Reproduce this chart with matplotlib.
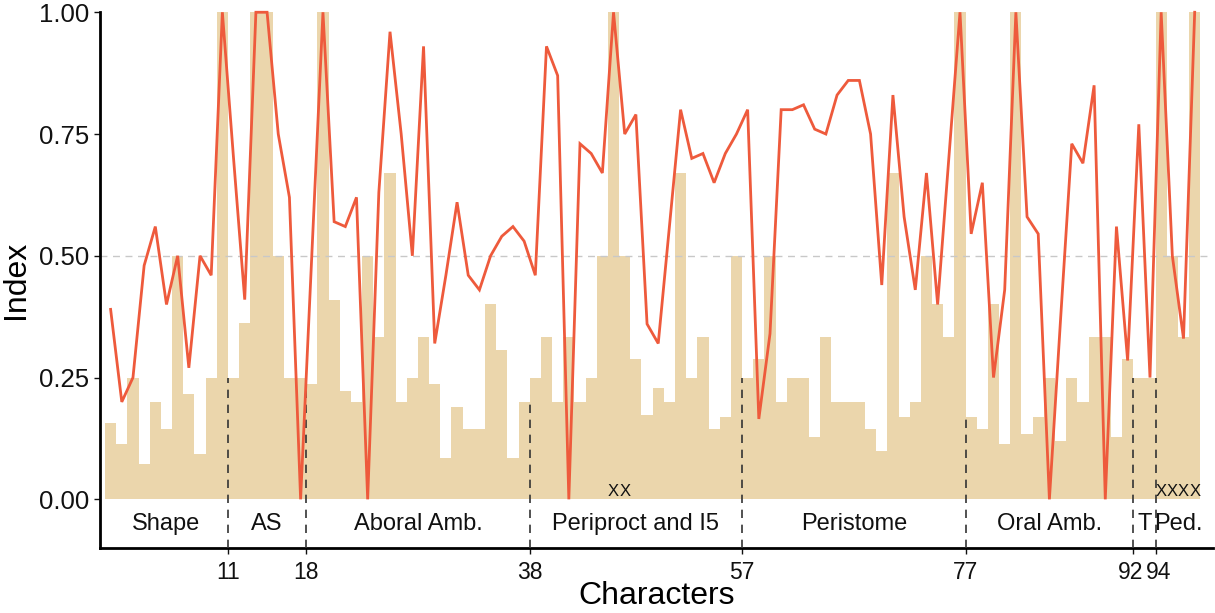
import matplotlib
matplotlib.use("Agg")
import matplotlib.pyplot as plt
import matplotlib.transforms as mtransforms
import numpy as np

plt.rcParams['font.family'] = ['Liberation Sans', 'DejaVu Sans']

# ---- data ----
characters = list(range(1, 99))
bar_values = [
    0.156, 0.113, 0.25, 0.073, 0.20, 0.144, 0.50, 0.216, 0.094, 0.25,
    1.0, 0.25, 0.363, 1.0, 1.0, 0.50, 0.25, 0.25, 0.237, 1.0,
    0.41, 0.223, 0.20, 0.50, 0.334, 0.67, 0.20, 0.25, 0.334, 0.237,
    0.084, 0.189, 0.144, 0.144, 0.40, 0.307, 0.084, 0.20, 0.25, 0.334,
    0.20, 0.334, 0.20, 0.25, 0.50, 1.0, 0.50, 0.288, 0.173, 0.228,
    0.20, 0.67, 0.25, 0.334, 0.144, 0.168, 0.50, 0.25, 0.288, 0.50,
    0.20, 0.25, 0.25, 0.127, 0.334, 0.20, 0.20, 0.20, 0.144, 0.10,
    0.67, 0.168, 0.20, 0.50, 0.40, 0.334, 1.0, 0.168, 0.144, 0.40,
    0.113, 1.0, 0.134, 0.168, 0.25, 0.12, 0.25, 0.20, 0.334, 0.334,
    0.127, 0.288, 0.25, 0.25, 1.0, 0.50, 0.334, 1.0,
]
line_values = [
    0.39, 0.20, 0.25, 0.48, 0.56, 0.40, 0.50, 0.27, 0.50, 0.46,
    1.0, 0.70, 0.41, 1.0, 1.0, 0.75, 0.62, 0.0, 0.50, 1.0,
    0.57, 0.56, 0.62, 0.0, 0.63, 0.96, 0.75, 0.50, 0.93, 0.32,
    0.46, 0.61, 0.46, 0.43, 0.50, 0.54, 0.56, 0.53, 0.46, 0.93,
    0.87, 0.0, 0.73, 0.71, 0.67, 1.0, 0.75, 0.79, 0.36, 0.32,
    0.56, 0.80, 0.70, 0.71, 0.65, 0.71, 0.75, 0.80, 0.165, 0.34,
    0.80, 0.80, 0.81, 0.76, 0.75, 0.83, 0.86, 0.86, 0.75, 0.44,
    0.83, 0.58, 0.43, 0.67, 0.40, 0.70, 1.0, 0.545, 0.65, 0.25,
    0.43, 1.0, 0.58, 0.545, 0.0, 0.37, 0.73, 0.69, 0.85, 0.0,
    0.56, 0.285, 0.77, 0.25, 1.0, 0.50, 0.33, 1.0,
]
group_names = ["Shape", "AS", "Aboral Amb.", "Periproct and I5", "Peristome",
               "Oral Amb.", "T", "Ped."]
group_breaks = [11, 18, 38, 57, 77, 92, 94]
flag_chars = [46, 47, 95, 96, 97, 98]
y_ticks = [0.0, 0.25, 0.50, 0.75, 1.00]

# ---- style ----
bar_color = "#EBD6AC"
line_color = "#EE5A3C"

fig = plt.figure(figsize=(12.15, 6.13), dpi=100)
ax = fig.add_axes([0.0823, 0.106, 0.9157, 0.874])

x = np.array(characters)
bars = np.array(bar_values)
ax.bar(x, bars, width=1.0, color=bar_color, linewidth=0, zorder=1)

# reference line at 0.5
ax.axhline(0.5, color="#C8C8C8", linestyle=(0, (5, 4)), linewidth=1.0, zorder=2)

# group separators
ymin = -0.1
for b in group_breaks:
    top = min(bars[b - 1], bars[b])
    ax.plot([b + 0.5, b + 0.5], [ymin, top], color="#333333",
            linestyle=(0, (5, 4)), linewidth=1.2, zorder=3)

ax.plot(x, line_values, color=line_color, linewidth=2.0, zorder=4,
        clip_on=False, solid_joinstyle='miter')

# group labels
edges = [0.5] + [b + 0.5 for b in group_breaks] + [len(characters) + 0.5]
for name, lo, hi in zip(group_names, edges[:-1], edges[1:]):
    ax.text((lo + hi) / 2, -0.05, name, ha="center", va="center",
            fontsize=17, color="#111111")

# flag marks
for c in flag_chars:
    ax.text(c, 0.0, "X", ha="center", va="bottom", fontsize=12, color="#111111")

ax.set_xlim(0.05, 99.6)
ax.set_ylim(ymin, 1.0)
ax.set_yticks(y_ticks)
ax.set_yticklabels([f"{v:.2f}" for v in y_ticks])
ax.set_xticks([b + 0.5 for b in group_breaks])
ax.set_xticklabels([str(b) for b in group_breaks])
ax.tick_params(axis="y", labelsize=18.5, colors="#111111", length=4, width=1)
ax.tick_params(axis="x", labelsize=16.5, colors="#111111", length=4, width=1, pad=5)

# nudge the two crowded labels apart
xt = ax.get_xticklabels()
xt[-2].set_transform(xt[-2].get_transform() +
                     mtransforms.ScaledTranslation(-3 / 100, 0, fig.dpi_scale_trans))
xt[-1].set_transform(xt[-1].get_transform() +
                     mtransforms.ScaledTranslation(3 / 100, 0, fig.dpi_scale_trans))

for s in ["top", "right"]:
    ax.spines[s].set_visible(False)
for s in ["left", "bottom"]:
    ax.spines[s].set_linewidth(2)
    ax.spines[s].set_color("black")

ax.set_ylabel("Index", fontsize=23, labelpad=6)
ax.set_xlabel("Characters", fontsize=23, labelpad=-2)

fig.savefig("out.png", dpi=100)
